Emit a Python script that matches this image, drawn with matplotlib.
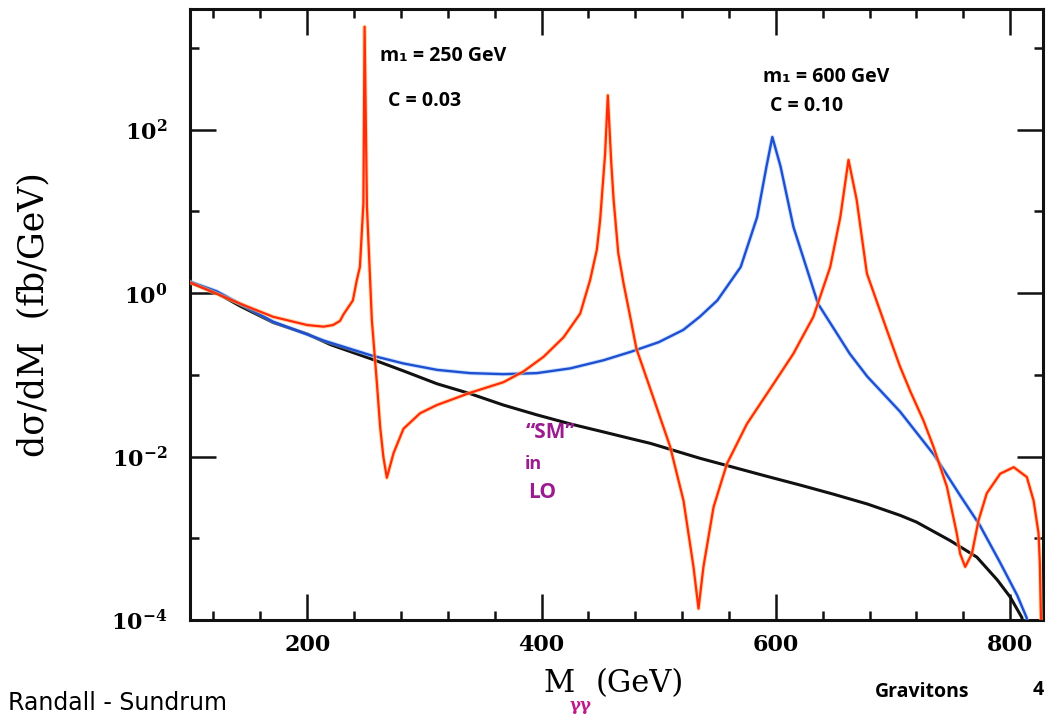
import matplotlib
matplotlib.use("Agg")
import matplotlib.pyplot as plt
from matplotlib.ticker import FixedLocator, FixedFormatter, NullFormatter

# ---------------- data ----------------
# SM (LO) background, black
sm_mass = [100, 123, 143, 171, 200, 220, 254, 282, 311, 339, 367.5, 396, 424.5,
           453, 476, 493, 535, 592, 621, 649, 678, 706, 720, 749, 771.5, 789,
           800, 810, 813]
sm_xsec = [1.35, 1.0, 0.692, 0.437, 0.316, 0.234, 0.158, 0.112, 0.0776, 0.0589,
           0.0427, 0.0324, 0.0251, 0.0200, 0.0166, 0.0145, 0.00955, 0.00575,
           0.00447, 0.00347, 0.00263, 0.00191, 0.00158, 0.000933, 0.000589,
           0.000309, 0.000191, 0.000107, 0.00005]

# RS graviton m1 = 600 GeV, c = 0.10, blue
rs600_mass = [100, 123, 171, 214, 254, 282, 311, 339, 367.5, 396, 424.5, 453,
              476, 500, 521, 535, 550, 570, 584, 592, 597, 604, 615, 636, 663,
              678, 706, 735, 757, 774, 791.5, 806, 814, 817]
rs600_xsec = [1.38, 1.05, 0.447, 0.263, 0.174, 0.138, 0.115, 0.105, 0.102,
              0.105, 0.120, 0.151, 0.191, 0.251, 0.355, 0.513, 0.813, 2.09,
              8.51, 35.5, 81.3, 35.5, 6.46, 0.741, 0.182, 0.0955, 0.0355,
              0.0105, 0.00339, 0.00145, 0.000501, 0.000200, 0.000107, 0.00005]

# RS graviton m1 = 250 GeV, c = 0.03, red
rs250_mass = [100, 143, 171, 200, 214, 222, 228, 231, 239, 242.4, 245, 248, 249,
              251, 255.2, 259.5, 262.3, 265, 268, 273.7, 282.2, 296.4, 310.7,
              339, 367.5, 384.6, 401.7, 418.8, 433, 441.5, 447.2, 450, 454.3,
              456.6, 459.5, 461.5, 465.5, 470, 475.7, 481, 494, 509.8, 521.2,
              529.7, 534, 538.2, 546.8, 558.2, 575.3, 598, 615, 621, 632, 646.4,
              655, 662, 669, 677.7, 694.7, 706, 714.7, 726, 734.5, 746, 754.4,
              757.3, 761.6, 767.3, 773, 780, 791.5, 803, 814.2, 820, 824.2,
              825.3, 826.2, 827]
rs250_xsec = [1.35, 0.741, 0.513, 0.407, 0.389, 0.407, 0.457, 0.550, 0.813,
              1.45, 2.09, 12.6, 1820, 11.5, 0.468, 0.0794, 0.0229, 0.0100,
              0.00550, 0.0110, 0.0219, 0.0339, 0.0427, 0.0603, 0.0813, 0.110,
              0.166, 0.288, 0.562, 1.45, 3.39, 7.76, 51.3, 263, 39.8, 14.1,
              3.09, 1.32, 0.513, 0.209, 0.0603, 0.0132, 0.00288, 0.000447,
              0.000138, 0.000447, 0.00240, 0.00813, 0.0251, 0.0776, 0.182,
              0.263, 0.513, 2.09, 8.51, 42.7, 13.8, 1.74, 0.355, 0.126, 0.0631,
              0.0275, 0.0132, 0.00427, 0.00115, 0.000646, 0.000447, 0.000646,
              0.00166, 0.00355, 0.00617, 0.00741, 0.00562, 0.00288, 0.00115,
              0.0005, 0.000112, 0.00005]

x_major = [200, 400, 600, 800]
x_major_labels = ["200", "400", "600", "800"]
y_major = [1e-4, 1e-2, 1e0, 1e2]
y_major_labels = [r"$\mathbf{10^{-4}}$", r"$\mathbf{10^{-2}}$",
                  r"$\mathbf{10^{0}}$", r"$\mathbf{10^{2}}$"]
y_minor = [1e-3, 1e-1, 1e1, 1e3]

# ---------------- figure ----------------
plt.rcParams['mathtext.fontset'] = 'dejavuserif'
W, H = 1049, 719
fig = plt.figure(figsize=(W / 100, H / 100), dpi=100)
fig.patch.set_facecolor('white')
ax = fig.add_axes([190 / W, 1 - 620 / H, (1043 - 190) / W, (620 - 9) / H])
ax.set_yscale('log')
ax.set_xlim(100, 828)
ax.set_ylim(1e-4, 3.0e3)

ax.plot(sm_mass, sm_xsec, color='#111111', lw=2.2, solid_joinstyle='round', zorder=3)
ax.plot(rs600_mass, rs600_xsec, color='#8fc0ff', lw=3.0, alpha=0.5, zorder=3)
ax.plot(rs600_mass, rs600_xsec, color='#1f4fd0', lw=1.7, zorder=4)
ax.plot(rs250_mass, rs250_xsec, color='#ffc060', lw=3.0, alpha=0.6, zorder=4)
ax.plot(rs250_mass, rs250_xsec, color='#ff2a10', lw=1.6, zorder=5)

# ticks
ax.xaxis.set_major_locator(FixedLocator(x_major))
ax.xaxis.set_major_formatter(FixedFormatter(x_major_labels))
ax.xaxis.set_minor_locator(FixedLocator([v for v in range(120, 828, 40) if v % 200 != 0]))
ax.yaxis.set_major_locator(FixedLocator(y_major))
ax.yaxis.set_major_formatter(FixedFormatter(y_major_labels))
ax.yaxis.set_minor_locator(FixedLocator(y_minor))
ax.yaxis.set_minor_formatter(NullFormatter())
ax.tick_params(which='both', direction='in', top=True, right=True, width=1.8, color='#111111')
ax.tick_params(which='major', length=19)
ax.tick_params(which='minor', length=6.5)
ax.tick_params(axis='x', which='major', pad=10)
ax.tick_params(axis='y', which='major', pad=16)
for lab in ax.get_xticklabels():
    lab.set_fontfamily('DejaVu Serif')
    lab.set_fontweight('bold')
    lab.set_fontsize(16)
for lab in ax.get_yticklabels():
    lab.set_fontsize(16)
for sp in ax.spines.values():
    sp.set_linewidth(2.2)
    sp.set_color('#111111')

# axis labels
fig.text(33 / W, 1 - 315 / H, "dσ/dM  (fb/GeV)", rotation=90, ha='center', va='center',
         fontsize=25, family='DejaVu Serif')
fig.text(559 / W, 1 - 683 / H, "M", ha='center', va='center', fontsize=22,
         family='DejaVu Serif')
fig.text(581 / W, 1 - 706 / H, "γγ", ha='center', va='center', fontsize=12,
         color='#c0188a', fontweight='bold', family='DejaVu Serif')
fig.text(640 / W, 1 - 684 / H, "(GeV)", ha='center', va='center', fontsize=22,
         family='DejaVu Serif')

# annotations (handwritten in the original)
hand = ['Open Sans', 'DejaVu Sans']
fig.text(380 / W, 1 - 56 / H, "m₁ = 250 GeV", ha='left', va='center', fontsize=14,
         fontweight='bold', family=hand)
fig.text(388 / W, 1 - 101 / H, "C = 0.03", ha='left', va='center', fontsize=14,
         fontweight='bold', family=hand)
fig.text(763 / W, 1 - 77 / H, "m₁ = 600 GeV", ha='left', va='center', fontsize=14,
         fontweight='bold', family=hand)
fig.text(770 / W, 1 - 106 / H, "C = 0.10", ha='left', va='center', fontsize=14,
         fontweight='bold', family=hand)
purple = '#9a1c8e'
fig.text(526 / W, 1 - 432 / H, "“SM”", ha='left', va='center', fontsize=15,
         fontweight='bold', color=purple, family=hand)
fig.text(525 / W, 1 - 464 / H, "in", ha='left', va='center', fontsize=13,
         fontweight='bold', color=purple, family=hand)
fig.text(528 / W, 1 - 492 / H, "LO", ha='left', va='center', fontsize=15,
         fontweight='bold', color=purple, family=hand)
fig.text(8 / W, 1 - 703 / H, "Randall - Sundrum", ha='left', va='center', fontsize=17,
         family='DejaVu Sans')
fig.text(875 / W, 1 - 692 / H, "Gravitons", ha='left', va='center', fontsize=14,
         fontweight='bold', family=hand)
fig.text(1033 / W, 1 - 690 / H, "4", ha='left', va='center', fontsize=14,
         fontweight='bold', family=hand)

fig.savefig("out.png", dpi=100, facecolor='white')
